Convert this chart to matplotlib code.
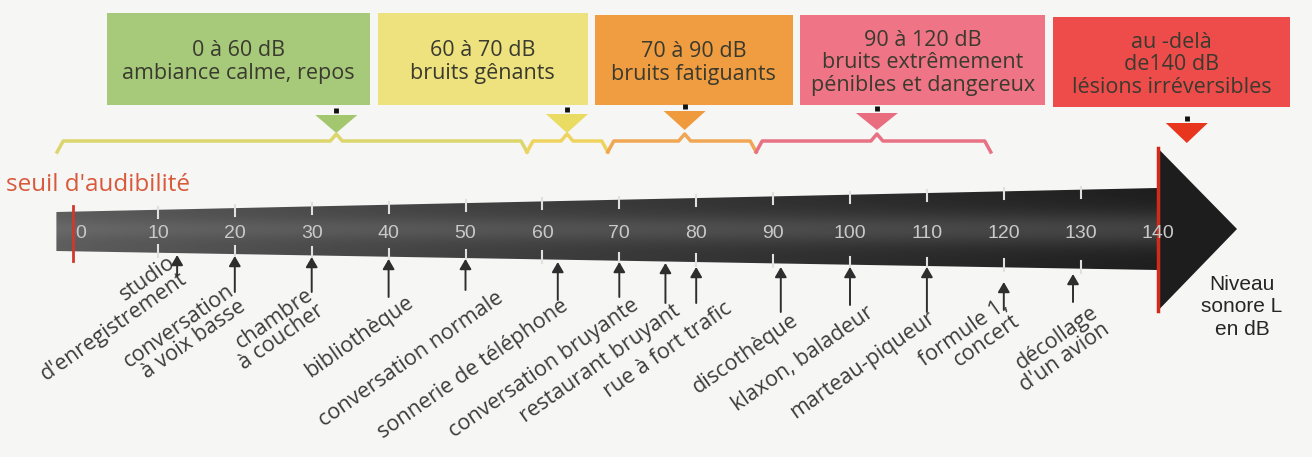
import numpy as np
import matplotlib.pyplot as plt
from matplotlib.patches import Polygon, Rectangle

plt.rcParams['font.family'] = ['Open Sans', 'DejaVu Sans']

PX = 7.69          # pixels par dB
X0 = 81            # position en pixels de 0 dB

# graduation de l'échelle (dB)
ticks = [0, 10, 20, 30, 40, 50, 60, 70, 80, 90, 100, 110, 120, 130, 140]

# sources de bruit et niveau sonore (dB)
sources = ["studio\nd'enregistrement", "conversation\nà voix basse", "chambre\nà coucher",
           "bibliothèque", "conversation normale", "sonnerie de téléphone",
           "conversation bruyante", "restaurant bruyant", "rue à fort trafic",
           "discothèque", "klaxon, baladeur", "marteau-piqueur",
           "formule 1,\nconcert", "décollage\nd'un avion"]
levels = [12.5, 20, 30, 40, 50, 62, 70, 76, 80, 91, 100, 110, 120, 129]

# zones de gêne
zone_texts = ["0 à 60 dB\nambiance calme, repos", "60 à 70 dB\nbruits gênants",
              "70 à 90 dB\nbruits fatiguants",
              "90 à 120 dB\nbruits extrêmement\npénibles et dangereux",
              "au -delà\nde140 dB\nlésions irréversibles"]
zone_colors = ['#a7c97a', '#eee27e', '#f09c40', '#ee7486', '#ee4b4b']
tri_colors = ['#a3c76f', '#eadc62', '#ef9a3c', '#e96d7e', '#e8361e']
brace_colors = ['#dcd66c', '#eed35e', '#f0a652', '#e87284']
zone_marks = [33.2, 63.2, 78.5, 103.5, 143.8]
brace_from = [-3.1, 58, 68.5, 87.8]
brace_to = [58, 68.5, 87.8, 118.3]

# mise en page (pixels / dB)
box_left = [3.4, 38.6, 66.8, 93.5, 126.4]
box_right = [37.6, 65.9, 92.6, 125.4, 157.2]
box_top = [13, 13, 15, 15, 17]
box_bot = [105, 105, 105, 105, 107]
tri_top = [115, 114, 111, 113, 123]
tri_bot = [133, 133, 130, 130, 143]
arrow_tip = [255, 256, 257, 259, 259, 262, 262, 263, 267, 267, 267, 267, 282, 274]
arrow_end = [276, 292, 292, 297, 290, 300, 297, 303, 303, 312, 305, 312, 310, 302]
label_dx = [-10, -9, -7, 17, 30, 2, 11, 7, 28, 9, 16, 0, -4, 17]
label_y = [252, 280, 284, 292, 288, 295, 295, 300, 298, 310, 302, 307, 294, 302]

fig = plt.figure(figsize=(13.12, 4.57), dpi=100)
fig.patch.set_facecolor('#f6f6f5')
ax = fig.add_axes([0, 0, 1, 1])
ax.set_xlim(-X0 / PX, (1312 - X0) / PX)
ax.set_ylim(457, 0)
ax.axis('off')

# boîtes du haut
for i in range(5):
    ax.add_patch(Rectangle((box_left[i], box_top[i]), box_right[i] - box_left[i],
                           box_bot[i] - box_top[i], color=zone_colors[i], lw=0))
    ax.text((box_left[i] + box_right[i]) / 2, (box_top[i] + box_bot[i]) / 2 + 3,
            zone_texts[i], ha='center', va='center', fontsize=15.5, color='#3a3a2e',
            linespacing=1.12)
    m = zone_marks[i]
    hw = 21 / PX
    ax.add_patch(Polygon([(m - hw, tri_top[i]), (m + hw, tri_top[i]), (m, tri_bot[i])],
                         color=tri_colors[i], lw=0))
    ax.plot([m, m], [tri_top[i] - 7, tri_top[i] - 2], color='#111', lw=3.5,
            solid_capstyle='butt')

# accolades
for i in range(4):
    a, b, m = brace_from[i], brace_to[i], zone_marks[i]
    d = 6 / PX
    xs = [a, a + d, m - d, m, m + d, b - d, b]
    ys = [152, 141, 141, 134, 141, 141, 152]
    ax.plot(xs, ys, color=brace_colors[i], lw=2.5, solid_joinstyle='round')

# barre (dégradé)
bx0, bx1 = -3.2, 140
yt0, yt1, yb0, yb1 = 212, 188, 251, 270
bar = Polygon([(bx0, yt0), (bx1, yt1), (bx1, yb1), (bx0, yb0)], closed=True,
              facecolor='none', edgecolor='none')
ax.add_patch(bar)
nx, ny = 300, 80
u = np.linspace(0, 1, nx)[None, :]
v = np.linspace(0, 1, ny)[:, None]
vv = (v - 0.5) / ((yb0 - yt0 + (yb1 - yb0 - yt1 + yt0) * u) / (yb1 - yt1) * 0.5 + 1e-9)
shade = 0.37 - 0.25 * u ** 0.8 + 0.10 * np.exp(-(vv / 0.45) ** 2) * (0.4 + u)
img = ax.imshow(shade, cmap='gray', vmin=0, vmax=1, aspect='auto',
                extent=(bx0, bx1, yb1, yt1), interpolation='bilinear', zorder=2)
img.set_clip_path(bar)

# pointe de la flèche
ax.add_patch(Polygon([(140, 148), ((1237 - X0) / PX, 229), (140, 311)],
                     color='#1d1d1d', lw=0, zorder=3))
ax.plot([140, 140], [148, 311], color='#d42a1a', lw=2.5, zorder=4)

# seuil d'audibilité
ax.plot([-1.1, -1.1], [206, 261], color='#d03a2a', lw=2, zorder=4)
ax.text(-9.8, 185, "seuil d'audibilité", ha='left', va='center', fontsize=17.5,
        color='#d9593c')

# graduations
for t in ticks:
    ax.text(t, 233, str(t), ha='center', va='center', fontsize=14, color='#c9c9c9',
            zorder=5, family=['Liberation Sans Narrow', 'Liberation Sans', 'DejaVu Sans'])
    if 0 < t < 140:
        f = (t - bx0) / (bx1 - bx0)
        yt = yt0 + (yt1 - yt0) * f
        yb = yb0 + (yb1 - yb0) * f
        ax.plot([t, t], [yt - 3, yt + 8], color='#e0e0e0', lw=1.5, zorder=5)
        ax.plot([t, t], [yb - 8, yb + 4], color='#e0e0e0', lw=1.5, zorder=5)

# sources de bruit
for i, (s, lvl) in enumerate(zip(sources, levels)):
    ax.annotate('', xy=(lvl, arrow_tip[i]), xytext=(lvl, arrow_end[i]),
                arrowprops=dict(arrowstyle='-|>,head_width=0.35,head_length=0.6',
                                color='#2e2e2e', lw=1.4, shrinkA=0, shrinkB=0),
                zorder=5)
    ax.text(lvl + label_dx[i] / PX, label_y[i], s, rotation=35, ha='right', va='top',
            rotation_mode='anchor', multialignment='right', fontsize=15.5,
            color='#3c3c3c', linespacing=0.95)

ax.text((1242 - X0) / PX, 307, "Niveau\nsonore L\nen dB", ha='center', va='center',
        fontsize=15, color='#262626', linespacing=1.25,
        family=['Liberation Sans Narrow', 'Liberation Sans', 'DejaVu Sans'])

fig.savefig('out.png', dpi=100, facecolor=fig.get_facecolor())
